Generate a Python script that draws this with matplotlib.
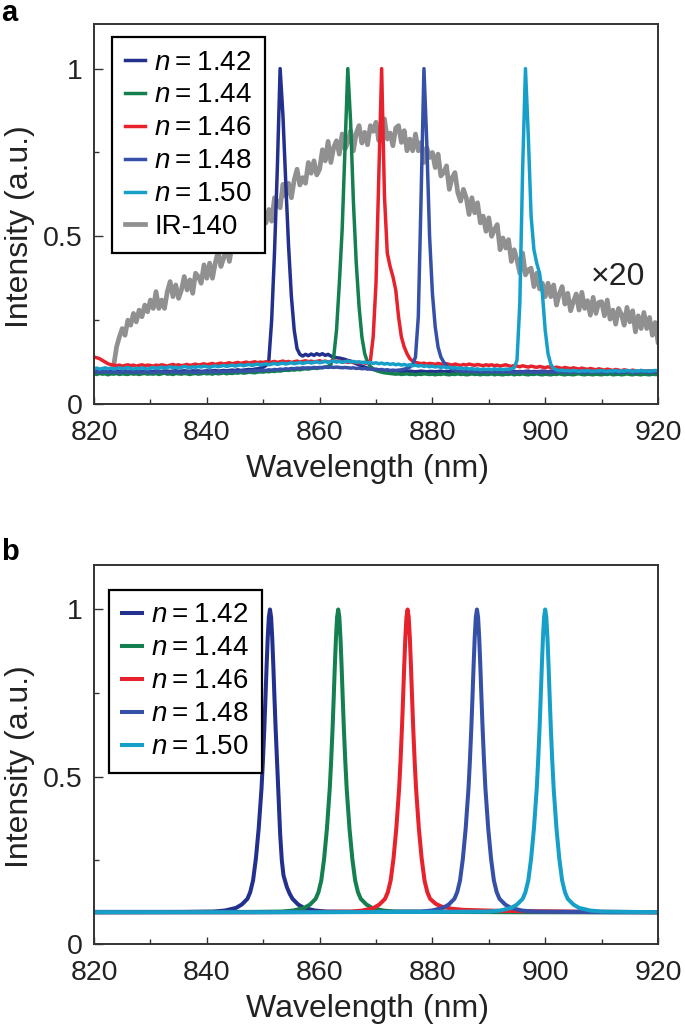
import numpy as np
import matplotlib
matplotlib.use("Agg")
import matplotlib.pyplot as plt
from matplotlib.ticker import MultipleLocator

plt.rcParams['font.family'] = ['Liberation Sans', 'DejaVu Sans']
plt.rcParams['mathtext.fontset'] = 'custom'
plt.rcParams['mathtext.it'] = 'Liberation Sans:italic'
plt.rcParams['mathtext.rm'] = 'Liberation Sans'

# ---------------- data: panel a (measured, 0.5 nm grid 820..920) ----------------
wl_a = np.arange(820.0, 920.01, 0.5)

a_n142 = [
    0.097,0.098,0.096,0.099,0.097,0.098,0.097,0.099,0.098,0.097,0.098,0.099,0.097,0.098,0.099,0.097,0.098,0.096,0.098,0.099,
    0.098,0.097,0.099,0.098,0.097,0.099,0.098,0.097,0.098,0.099,0.097,0.098,0.099,0.098,0.097,0.099,0.098,0.099,0.097,0.098,
    0.099,0.098,0.099,0.100,0.098,0.099,0.100,0.099,0.100,0.101,0.100,0.102,0.100,0.101,0.102,0.103,0.102,0.104,0.105,0.107,
    0.110,0.115,0.130,0.250,0.450,0.700,1.000,0.860,0.660,0.470,0.320,0.220,0.165,0.148,0.143,0.148,0.144,0.149,0.145,0.150,
    0.146,0.150,0.145,0.148,0.143,0.140,0.138,0.137,0.135,0.133,0.130,0.128,0.124,0.120,0.117,0.113,0.110,0.107,0.105,0.103,
    0.102,0.101,0.100,0.099,0.100,0.099,0.098,0.099,0.098,0.097,0.098,0.097,0.098,0.097,0.096,0.097,0.098,0.097,0.096,0.097,
    0.097,0.096,0.097,0.098,0.096,0.097,0.096,0.097,0.098,0.096,0.097,0.096,0.097,0.096,0.098,0.097,0.096,0.097,0.096,0.097,
    0.096,0.097,0.098,0.096,0.097,0.096,0.097,0.098,0.096,0.097,0.096,0.097,0.096,0.097,0.098,0.096,0.097,0.096,0.097,0.098,
    0.097,0.096,0.098,0.097,0.096,0.097,0.098,0.096,0.097,0.096,0.097,0.098,0.096,0.097,0.096,0.097,0.098,0.097,0.096,0.097,
    0.098,0.096,0.097,0.096,0.098,0.097,0.096,0.097,0.098,0.096,0.097,0.096,0.098,0.097,0.096,0.097,0.098,0.097,0.096,0.097,
    0.097]

a_n144 = [
    0.090,0.088,0.091,0.089,0.090,0.087,0.090,0.089,0.091,0.088,0.090,0.089,0.088,0.091,0.089,0.090,0.088,0.090,0.091,0.089,
    0.090,0.089,0.091,0.088,0.090,0.092,0.089,0.090,0.088,0.091,0.090,0.089,0.091,0.090,0.088,0.090,0.091,0.089,0.090,0.092,
    0.090,0.091,0.089,0.092,0.090,0.091,0.093,0.090,0.092,0.091,0.093,0.092,0.094,0.092,0.093,0.095,0.094,0.093,0.095,0.096,
    0.095,0.097,0.096,0.098,0.097,0.099,0.098,0.100,0.101,0.100,0.102,0.101,0.103,0.102,0.104,0.105,0.104,0.106,0.107,0.106,
    0.108,0.109,0.110,0.112,0.118,0.140,0.220,0.360,0.520,0.760,1.000,0.840,0.600,0.420,0.290,0.200,0.150,0.125,0.112,0.105,
    0.100,0.097,0.095,0.093,0.092,0.091,0.090,0.089,0.090,0.088,0.089,0.090,0.088,0.089,0.087,0.089,0.088,0.090,0.089,0.088,
    0.089,0.087,0.089,0.088,0.090,0.088,0.087,0.089,0.088,0.090,0.088,0.089,0.087,0.088,0.090,0.088,0.089,0.087,0.089,0.088,
    0.088,0.090,0.087,0.089,0.088,0.087,0.089,0.088,0.090,0.087,0.089,0.088,0.090,0.088,0.087,0.089,0.088,0.090,0.088,0.087,
    0.089,0.088,0.087,0.089,0.088,0.090,0.088,0.087,0.089,0.088,0.087,0.089,0.090,0.088,0.087,0.089,0.088,0.087,0.089,0.088,
    0.087,0.089,0.088,0.090,0.087,0.088,0.089,0.087,0.088,0.090,0.088,0.087,0.089,0.088,0.087,0.089,0.088,0.087,0.089,0.088,
    0.088]

a_n146 = [
    0.140,0.138,0.135,0.130,0.125,0.120,0.117,0.116,0.114,0.116,0.113,0.115,0.117,0.114,0.116,0.113,0.115,0.117,0.114,0.116,
    0.115,0.113,0.116,0.114,0.117,0.115,0.113,0.116,0.118,0.115,0.117,0.114,0.116,0.118,0.115,0.117,0.119,0.116,0.118,0.120,
    0.117,0.119,0.121,0.118,0.120,0.122,0.119,0.121,0.123,0.120,0.122,0.124,0.121,0.123,0.125,0.122,0.124,0.126,0.123,0.125,
    0.124,0.126,0.123,0.125,0.127,0.124,0.126,0.128,0.125,0.127,0.124,0.126,0.128,0.125,0.127,0.129,0.126,0.128,0.125,0.127,
    0.129,0.126,0.128,0.125,0.127,0.129,0.126,0.128,0.125,0.127,0.124,0.126,0.123,0.125,0.122,0.124,0.122,0.121,0.128,0.200,
    0.360,0.680,1.000,0.620,0.450,0.410,0.380,0.340,0.260,0.200,0.170,0.150,0.135,0.128,0.124,0.122,0.120,0.122,0.119,0.121,
    0.120,0.118,0.121,0.119,0.117,0.120,0.118,0.116,0.119,0.117,0.115,0.118,0.116,0.119,0.117,0.115,0.118,0.116,0.114,0.117,
    0.115,0.117,0.114,0.116,0.113,0.115,0.117,0.114,0.112,0.115,0.113,0.111,0.114,0.112,0.110,0.113,0.111,0.109,0.112,0.110,
    0.108,0.111,0.109,0.107,0.110,0.108,0.106,0.109,0.107,0.105,0.108,0.106,0.104,0.107,0.105,0.103,0.106,0.104,0.102,0.105,
    0.103,0.101,0.104,0.102,0.100,0.103,0.101,0.099,0.102,0.100,0.098,0.101,0.099,0.097,0.100,0.098,0.097,0.099,0.097,0.098,
    0.098]

a_n148 = [
    0.095,0.096,0.094,0.095,0.097,0.095,0.094,0.096,0.095,0.094,0.096,0.095,0.097,0.095,0.094,0.096,0.095,0.094,0.096,0.095,
    0.096,0.094,0.095,0.097,0.095,0.096,0.094,0.095,0.097,0.095,0.096,0.094,0.095,0.097,0.096,0.095,0.094,0.096,0.095,0.097,
    0.096,0.095,0.097,0.096,0.095,0.097,0.096,0.098,0.097,0.096,0.098,0.097,0.099,0.098,0.097,0.099,0.098,0.100,0.099,0.100,
    0.101,0.100,0.102,0.101,0.103,0.102,0.104,0.103,0.105,0.104,0.106,0.105,0.107,0.106,0.108,0.107,0.108,0.107,0.109,0.108,
    0.109,0.108,0.110,0.109,0.110,0.109,0.110,0.109,0.108,0.109,0.108,0.107,0.108,0.106,0.107,0.105,0.106,0.104,0.105,0.103,
    0.104,0.102,0.103,0.101,0.102,0.100,0.101,0.100,0.101,0.102,0.104,0.106,0.110,0.118,0.140,0.260,0.620,1.000,0.780,0.500,
    0.330,0.230,0.170,0.140,0.125,0.115,0.108,0.104,0.101,0.099,0.098,0.097,0.098,0.096,0.097,0.096,0.097,0.095,0.096,0.097,
    0.096,0.095,0.097,0.096,0.095,0.096,0.097,0.095,0.096,0.094,0.095,0.096,0.095,0.097,0.095,0.096,0.094,0.095,0.096,0.095,
    0.097,0.095,0.096,0.094,0.095,0.097,0.096,0.095,0.094,0.096,0.095,0.097,0.095,0.096,0.094,0.095,0.096,0.095,0.097,0.095,
    0.096,0.094,0.095,0.097,0.096,0.095,0.094,0.096,0.095,0.097,0.095,0.096,0.094,0.095,0.097,0.096,0.095,0.094,0.096,0.095,
    0.096]

a_n150 = [
    0.105,0.107,0.104,0.106,0.108,0.105,0.107,0.104,0.106,0.108,0.105,0.107,0.109,0.106,0.104,0.107,0.105,0.108,0.106,0.104,
    0.107,0.109,0.106,0.108,0.110,0.107,0.109,0.111,0.108,0.110,0.107,0.109,0.112,0.110,0.108,0.111,0.109,0.112,0.110,0.113,
    0.111,0.109,0.112,0.114,0.111,0.113,0.115,0.112,0.114,0.116,0.113,0.115,0.117,0.114,0.116,0.118,0.115,0.117,0.119,0.116,
    0.118,0.120,0.117,0.119,0.121,0.118,0.120,0.122,0.119,0.121,0.123,0.120,0.122,0.124,0.121,0.123,0.125,0.122,0.124,0.126,
    0.123,0.125,0.127,0.124,0.126,0.128,0.125,0.127,0.124,0.126,0.128,0.125,0.127,0.124,0.126,0.123,0.125,0.122,0.124,0.121,
    0.123,0.120,0.122,0.119,0.121,0.118,0.120,0.117,0.119,0.116,0.118,0.115,0.117,0.114,0.116,0.113,0.115,0.112,0.114,0.111,
    0.113,0.110,0.112,0.109,0.111,0.108,0.110,0.107,0.109,0.106,0.108,0.105,0.107,0.104,0.106,0.103,0.105,0.102,0.104,0.103,
    0.104,0.102,0.105,0.103,0.104,0.102,0.104,0.103,0.105,0.108,0.130,0.300,0.700,1.000,0.800,0.560,0.460,0.420,0.390,0.330,
    0.220,0.150,0.118,0.106,0.102,0.100,0.101,0.099,0.100,0.098,0.100,0.099,0.097,0.099,0.098,0.100,0.098,0.097,0.099,0.098,
    0.100,0.098,0.097,0.099,0.098,0.100,0.097,0.099,0.098,0.100,0.099,0.097,0.099,0.098,0.100,0.098,0.099,0.097,0.099,0.100,
    0.099]

# IR-140 (x20), 0.5 nm grid 823.5..920
wl_ir = np.arange(823.5, 920.01, 0.5)
a_ir140 = [
    0.115,0.170,0.200,0.225,0.205,0.250,0.235,0.270,0.245,0.280,0.260,0.295,0.275,
    0.310,0.285,0.335,0.285,0.310,0.285,0.335,0.365,0.320,0.355,0.315,0.340,0.380,0.340,0.370,0.330,0.390,0.380,0.360,0.415,
    0.375,0.420,0.375,0.420,0.455,0.410,0.435,0.470,0.425,0.475,0.460,0.520,0.470,0.500,0.530,0.480,0.540,0.510,0.570,0.535,
    0.580,0.540,0.580,0.545,0.615,0.605,0.585,0.655,0.620,0.658,0.615,0.668,0.700,0.653,0.675,0.658,0.720,0.688,0.725,0.683,
    0.700,0.758,0.725,0.783,0.720,0.765,0.785,0.745,0.805,0.760,0.780,0.815,0.755,0.808,0.830,0.778,0.810,0.773,0.830,0.813,
    0.840,0.785,0.820,0.850,0.790,0.808,0.770,0.823,0.830,0.780,0.815,0.755,0.790,0.755,0.805,0.755,0.780,0.720,0.765,0.735,
    0.750,0.705,0.745,0.680,0.690,0.710,0.640,0.675,0.690,0.630,0.605,0.640,0.615,0.565,0.615,0.570,0.600,0.540,0.560,0.515,
    0.555,0.500,0.520,0.535,0.460,0.495,0.465,0.490,0.425,0.460,0.430,0.390,0.450,0.385,0.400,0.405,0.350,0.390,0.343,0.360,
    0.320,0.360,0.320,0.355,0.295,0.328,0.350,0.298,0.330,0.278,0.305,0.328,0.280,0.333,0.285,0.308,0.265,0.318,0.270,0.303,
    0.305,0.263,0.310,0.253,0.280,0.238,0.285,0.268,0.235,0.288,0.245,0.278,0.215,0.263,0.225,0.273,0.225,0.258,0.205,0.243,
    0.185]

# ---------------- data: panel b (simulated spectra) ----------------
b_x142 = [820, 830, 836, 841.2, 843.2, 845.2, 846.2, 847.2, 847.7, 848.2, 848.7, 849.2, 849.7, 849.95, 850.2, 850.4,
          850.6, 850.8, 851.0, 851.2,
          851.4, 851.6, 851.8, 852.0, 852.2, 852.45, 852.7, 853.0, 853.3, 853.6, 854.2, 854.7, 855.2, 856.2, 857.2,
          859.2, 861.2, 866, 880, 920]
b_y142 = [0.096, 0.096, 0.096, 0.097, 0.100, 0.108, 0.118, 0.135, 0.155, 0.190, 0.255, 0.345, 0.465, 0.548, 0.645, 0.735,
          0.830, 0.915, 0.977, 1.000,
          0.977, 0.915, 0.830, 0.735, 0.645, 0.548, 0.450, 0.330, 0.250, 0.205, 0.170, 0.150, 0.135, 0.118, 0.108,
          0.100, 0.097, 0.096, 0.096, 0.095]

b_x144 = [820, 840, 848, 853.3, 855.3, 857.3, 858.3, 859.3, 859.8, 860.3, 860.8, 861.3, 861.8, 862.05, 862.3, 862.5,
          862.7, 862.9, 863.1, 863.3,
          863.5, 863.7, 863.9, 864.1, 864.3, 864.55, 864.8, 865.3, 865.8, 866.3, 866.8, 867.3, 868.3, 869.3, 871.3,
          873.3, 880, 895, 920]
b_y144 = [0.095, 0.096, 0.096, 0.097, 0.100, 0.108, 0.118, 0.135, 0.155, 0.190, 0.255, 0.345, 0.465, 0.548, 0.645, 0.735,
          0.830, 0.915, 0.977, 1.000,
          0.977, 0.915, 0.830, 0.735, 0.645, 0.548, 0.465, 0.345, 0.255, 0.190, 0.155, 0.135, 0.118, 0.108, 0.100,
          0.097, 0.096, 0.095, 0.095]

b_x146 = [820, 845, 860, 865.6, 867.6, 869.6, 870.6, 871.6, 872.1, 872.6, 873.1, 873.6, 874.1, 874.35, 874.6, 874.8,
          875.0, 875.2, 875.4, 875.6,
          875.8, 876.0, 876.2, 876.4, 876.6, 876.85, 877.1, 877.6, 878.1, 878.6, 879.1, 879.6, 880.6, 881.6, 883.6,
          885.6, 892, 905, 920]
b_y146 = [0.095, 0.095, 0.096, 0.097, 0.100, 0.108, 0.118, 0.135, 0.155, 0.190, 0.255, 0.345, 0.465, 0.548, 0.645, 0.735,
          0.830, 0.915, 0.977, 1.000,
          0.977, 0.915, 0.830, 0.735, 0.645, 0.548, 0.465, 0.345, 0.255, 0.190, 0.155, 0.135, 0.120, 0.112, 0.105,
          0.102, 0.099, 0.097, 0.095]

b_x148 = [820, 850, 870, 877.9, 879.9, 881.9, 882.9, 883.9, 884.4, 884.9, 885.4, 885.9, 886.4, 886.65, 886.9, 887.1,
          887.3, 887.5, 887.7, 887.9,
          888.1, 888.3, 888.5, 888.7, 888.9, 889.15, 889.4, 889.9, 890.4, 890.9, 891.4, 891.9, 892.9, 893.9, 895.9,
          897.9, 905, 912, 920]
b_y148 = [0.095, 0.095, 0.096, 0.097, 0.100, 0.108, 0.118, 0.135, 0.155, 0.190, 0.255, 0.345, 0.465, 0.548, 0.645, 0.735,
          0.830, 0.915, 0.977, 1.000,
          0.977, 0.915, 0.830, 0.735, 0.645, 0.548, 0.465, 0.345, 0.255, 0.190, 0.155, 0.135, 0.118, 0.108, 0.100,
          0.097, 0.096, 0.095, 0.095]

b_x150 = [820, 860, 880, 890, 892, 894, 895, 896, 896.5, 897, 897.5, 898, 898.5, 898.75, 899, 899.2,
          899.4, 899.6, 899.8, 900,
          900.2, 900.4, 900.6, 900.8, 901, 901.25, 901.5, 902, 902.5, 903, 903.5, 904, 905, 906, 908,
          910, 915, 920]
b_y150 = [0.095, 0.095, 0.096, 0.097, 0.100, 0.108, 0.118, 0.135, 0.155, 0.190, 0.255, 0.345, 0.465, 0.548, 0.645, 0.735,
          0.830, 0.915, 0.977, 1.000,
          0.977, 0.915, 0.830, 0.735, 0.645, 0.548, 0.465, 0.345, 0.255, 0.190, 0.155, 0.135, 0.118, 0.108, 0.100,
          0.097, 0.096, 0.095]

labels_n = ['$n$\u2009=\u20091.42', '$n$\u2009=\u20091.44', '$n$\u2009=\u20091.46',
            '$n$\u2009=\u20091.48', '$n$\u2009=\u20091.50']
label_ir = 'IR-140'
colors = ['#23308e', '#14804f', '#e8222c', '#3550a6', '#16a0c9']
color_ir = '#909090'

x_ticks = [820, 840, 860, 880, 900, 920]
y_ticks = [0, 0.5, 1]
y_tick_labels = ['0', '0.5', '1']

# ---------------- figure ----------------
W, H = 685, 1026
fig = plt.figure(figsize=(W / 100, H / 100), dpi=100)

def ax_rect(l, t, r, b):
    return [l / W, 1 - b / H, (r - l) / W, (b - t) / H]

ax_a = fig.add_axes(ax_rect(94, 24, 658, 404))
ax_b = fig.add_axes(ax_rect(94, 565, 658, 944))

def style(ax):
    ax.set_xlim(820, 920)
    ax.set_ylim(0, 1.133)
    ax.set_xticks(x_ticks)
    ax.set_xticklabels([str(v) for v in x_ticks])
    ax.set_yticks(y_ticks)
    ax.set_yticklabels(y_tick_labels)
    ax.xaxis.set_minor_locator(MultipleLocator(10))
    ax.yaxis.set_minor_locator(MultipleLocator(0.25))
    ax.tick_params(which='both', direction='in', top=False, right=False,
                   width=1.0, color='#333333', labelsize=20.5, labelcolor='#222222')
    ax.tick_params(axis='x', which='major', length=5.0, pad=11.5)
    ax.tick_params(axis='y', which='major', length=6.5, pad=8)
    ax.tick_params(which='minor', length=3.3)
    for s in ax.spines.values():
        s.set_linewidth(1.4)
        s.set_color('#333333')
    ax.set_xlabel('Wavelength (nm)', fontsize=23, color='#222222', labelpad=6)
    ax.set_ylabel('Intensity (a.u.)', fontsize=23, color='#222222', labelpad=6)
    ax.xaxis.label.set_x(0.485)
    ax.yaxis.label.set_y(0.468)

style(ax_a)
style(ax_b)

# panel a
h_ir, = ax_a.plot(wl_ir, a_ir140, color=color_ir, lw=3.4, zorder=1, label=label_ir)
handles = []
for ys, c, lab in zip([a_n142, a_n144, a_n146, a_n148, a_n150], colors, labels_n):
    h, = ax_a.plot(wl_a, ys, color=c, lw=2.5, zorder=2, label=lab)
    handles.append(h)
leg_kw = dict(fontsize=20, frameon=True, fancybox=False, framealpha=1, edgecolor='black',
              handlelength=0.72, handletextpad=0.35, labelspacing=0.25, borderpad=0.45,
              borderaxespad=0, loc='upper left')
leg = ax_a.legend(handles + [h_ir], labels_n + [label_ir],
                  bbox_to_anchor=(18 / 564, 1 - 13 / 380), **leg_kw)
leg.get_frame().set_linewidth(1.6)
ax_a.text(917.7, 0.378, '×20', fontsize=23, ha='right', va='center', color='#222222')

# panel b
hb = []
for xs, ys, c, lab in zip([b_x142, b_x144, b_x146, b_x148, b_x150],
                          [b_y142, b_y144, b_y146, b_y148, b_y150], colors, labels_n):
    h, = ax_b.plot(xs, ys, color=c, lw=2.9, label=lab)
    hb.append(h)
legb = ax_b.legend(hb, labels_n, bbox_to_anchor=(15 / 564, 1 - 25 / 379), **leg_kw)
legb.get_frame().set_linewidth(1.6)

fig.text(0.002, 1 - 21 / H, 'a', fontsize=21, fontweight='bold', va='baseline', ha='left')
fig.text(0.002, 1 - 560 / H, 'b', fontsize=21, fontweight='bold', va='baseline', ha='left')

fig.savefig('out.png', dpi=100)
